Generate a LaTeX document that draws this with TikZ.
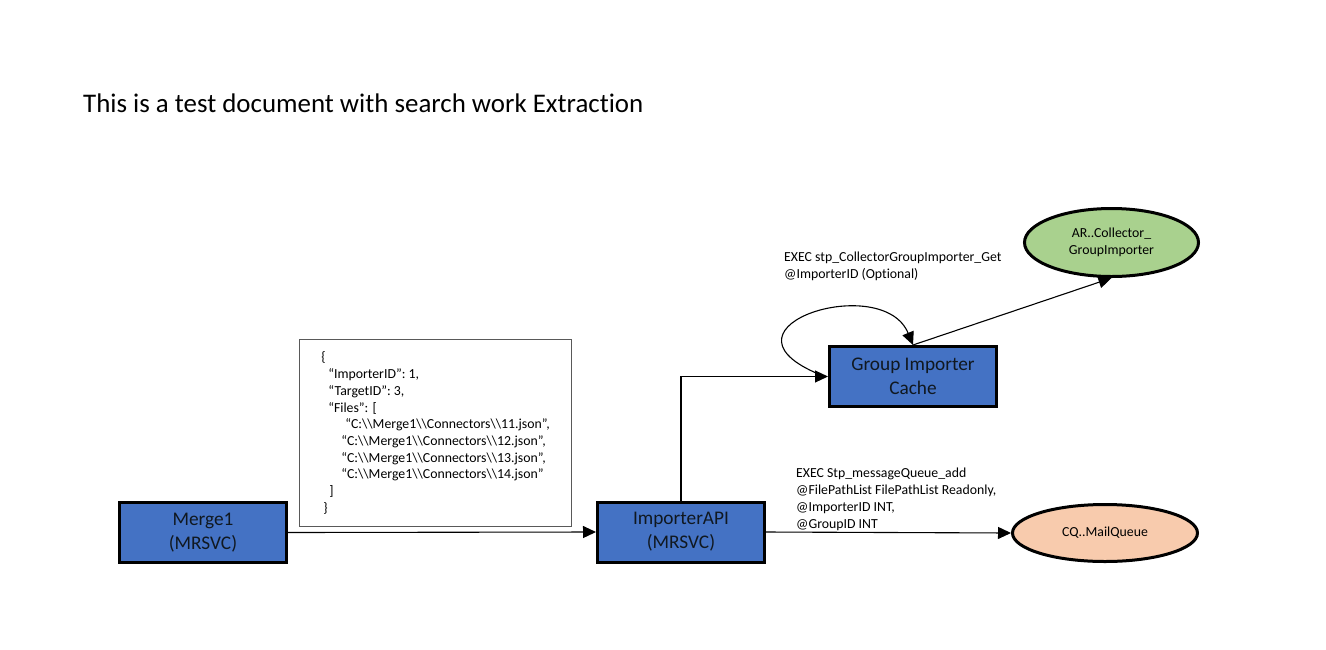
\documentclass[tikz,border=0pt]{standalone}
\usepackage{fontspec}
\setmainfont{Carlito}[Ligatures=NoCommon]
\usetikzlibrary{arrows.meta, shapes.geometric}
\definecolor{boxblue}{HTML}{4472C4}
\definecolor{nodegreen}{HTML}{A9D18E}
\definecolor{nodepeach}{HTML}{F8CBAD}
\definecolor{boxtext}{HTML}{101820}
\tikzstyle{line} = [draw, -{Triangle[length=13pt,width=12pt]}, line width=1.1pt]
\newcommand{\dbs}{\textbackslash\textbackslash}

\begin{document}
\begin{tikzpicture}[x=1pt, y=-1pt,
  svc/.style={rectangle, draw=black, line width=3pt, fill=boxblue, text=boxtext, minimum width=167pt, minimum height=60pt, align=center, font=\fontsize{19.3}{24}\selectfont},
  dbnode/.style={ellipse, draw=black, line width=3pt, inner sep=0pt, align=center, font=\fontsize{13.8}{16.7}\selectfont},
  note/.style={anchor=base west, inner sep=0pt, align=left, font=\fontsize{13.8}{16.7}\selectfont}]

    \useasboundingbox (0,0) rectangle (1326,649);

    \node[anchor=base west, inner sep=0pt, font=\fontsize{26.9}{32}\selectfont] (title) at (83,112) {This is a test document with search work Extraction};

    \node[svc] (merge) at (203,532.5) {Merge1\\(MRSVC)};
    \node[svc] (api) at (681,532) {ImporterAPI\\(MRSVC)};
    \node[svc] (gic) at (913,376.5) {Group Importer\\Cache};

    \node[dbnode, fill=nodegreen, minimum width=174pt, minimum height=68pt] (ar) at (1111.5,242.5) {AR..Collector\_\\GroupImporter};
    \node[dbnode, fill=nodepeach, minimum width=185pt, minimum height=57pt] (cq) at (1105,533) {CQ..MailQueue};

    \node[draw=black!65, line width=1pt, minimum width=272pt, minimum height=187pt, align=left, font=\fontsize{13.8}{16.7}\selectfont] (json) at (435.5,433) {%
      \{\\
      \hspace*{7pt}“ImporterID”: 1,\\
      \hspace*{7pt}“TargetID”: 3,\\
      \hspace*{7pt}“Files”: [\\
      \hspace*{24pt}“C:\dbs Merge1\dbs Connectors\dbs 11.json”,\\
      \hspace*{20pt}“C:\dbs Merge1\dbs Connectors\dbs 12.json”,\\
      \hspace*{20pt}“C:\dbs Merge1\dbs Connectors\dbs 13.json”,\\
      \hspace*{20pt}“C:\dbs Merge1\dbs Connectors\dbs 14.json”\\
      \hspace*{8pt}]\\
      \hspace*{2pt}\}};

    % base anchor sits on the last line
    \node[note] (getnote) at (784,278) {EXEC stp\_CollectorGroupImporter\_Get\\@ImporterID (Optional)};
    \node[note] (addnote) at (796,528) {EXEC Stp\_messageQueue\_add\\@FilePathList FilePathList Readonly,\\@ImporterID INT,\\@GroupID INT};

    \draw[line] (merge.east) -- (api.west);
    \draw[line] (api.north) |- (gic.west);
    \draw[line] ([xshift=-13pt,yshift=4pt]gic.west) .. controls +(-105,-47) and +(-30,-73) .. (gic.north);
    \draw[line] (gic.north) -- (ar.south);
    \draw[line] (api.east) -- (cq.west);

\end{tikzpicture}
\end{document}
